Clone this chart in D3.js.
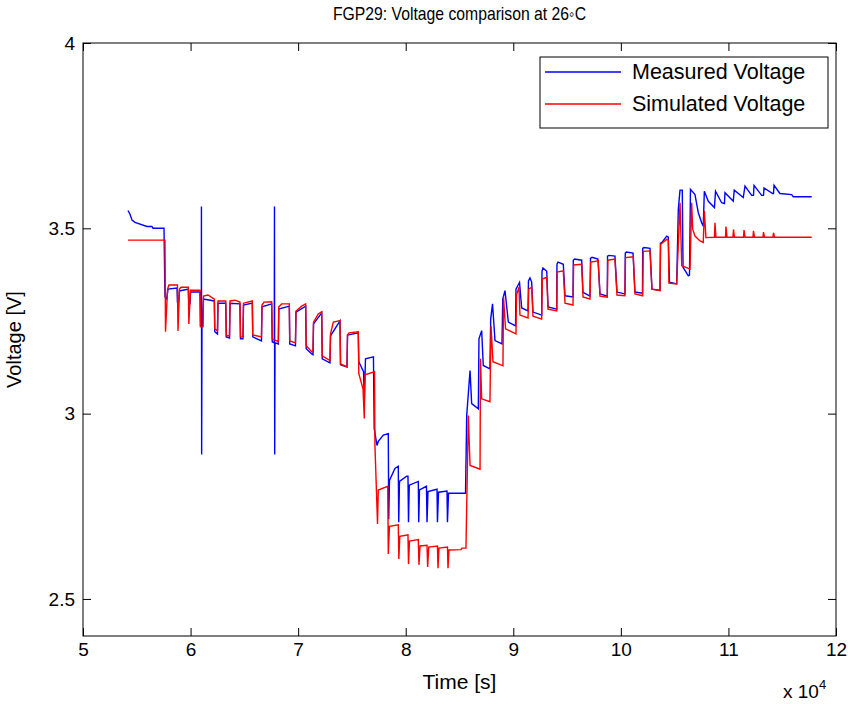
<!DOCTYPE html>
<html>
<head>
<meta charset="utf-8">
<script src="https://cdn.jsdelivr.net/npm/d3@7"></script>
<style>
  body { margin: 0; background: #fff; }
  text { font-family: "Liberation Sans", Arial, Helvetica, sans-serif; fill: #000; }
</style>
</head>
<body>
<script>
// Data: [time (s), voltage (V)]
const measured = [
  [54180,3.548],[54370,3.538],[54560,3.522],[54830,3.516],[55950,3.505],[56410,3.505],[56510,3.500],[57530,3.500],
  [57620,3.315],[57780,3.309],[57900,3.336],[58740,3.339],
  [58780,3.301],[58880,3.301],[58970,3.331],[59790,3.336],
  [59840,3.296],[59950,3.296],[59990,3.328],[60880,3.328],
  [60920,3.237],[61000,3.237],[61010,3.559],[61030,2.890],[61060,3.237],[61110,3.237],[61200,3.309],[62210,3.304],
  [62250,3.221],[62500,3.215],[62550,3.298],[63270,3.298],
  [63320,3.207],[63620,3.204],[63670,3.298],[64590,3.296],
  [64640,3.202],[64870,3.202],[64920,3.293],[65740,3.298],
  [65780,3.207],[66590,3.196],[66640,3.288],[67540,3.296],
  [67590,3.194],[67780,3.191],[67800,3.559],[67820,2.890],[67850,3.191],[68160,3.188],[68200,3.282],[69180,3.290],
  [69220,3.188],[69750,3.183],[69800,3.274],[70700,3.290],
  [70750,3.175],[71260,3.161],[71380,3.159],[71430,3.242],[72190,3.272],
  [72240,3.148],[72960,3.137],[73010,3.210],[73890,3.250],
  [73940,3.132],[74540,3.126],[74590,3.212],[75590,3.218],
  [75640,3.140],[76080,3.113],[76150,3.035],[76260,3.148],[77000,3.153],
  [77070,2.960],[77330,2.914],[77450,2.925],[77920,2.942],[78380,2.946],
  [78420,2.715],[78490,2.820],[79000,2.852],[79310,2.858],
  [79350,2.707],[79420,2.817],[80090,2.831],[80210,2.831],
  [80260,2.707],[80330,2.807],[81170,2.817],
  [81210,2.707],[81280,2.794],[81930,2.804],
  [81980,2.707],[82070,2.790],[82910,2.796],
  [82950,2.707],[83050,2.788],[83840,2.791],
  [83880,2.707],[83980,2.785],[85560,2.785],
  [85670,2.995],[85820,3.054],[85980,3.116],[86130,3.027],[86750,3.013],
  [86810,3.202],[87060,3.224],[87210,3.130],[87830,3.121],
  [87900,3.255],[88070,3.296],[88300,3.197],[88950,3.188],
  [89020,3.309],[89230,3.332],[89540,3.247],[90210,3.237],
  [90250,3.336],[90580,3.354],[90780,3.285],[91370,3.277],
  [91410,3.358],[91550,3.366],[91710,3.355],[91830,3.274],[92640,3.266],
  [92670,3.384],[92760,3.393],[93110,3.384],[93230,3.288],[94040,3.282],
  [94060,3.403],[94160,3.409],[94650,3.403],[94810,3.318],[95550,3.315],
  [95580,3.414],[95690,3.417],[96360,3.414],[96480,3.327],[97130,3.317],
  [97180,3.419],[97320,3.422],[97870,3.417],[98060,3.323],[98740,3.317],
  [98760,3.425],[98900,3.427],[99450,3.425],[99640,3.328],[100380,3.323],
  [100410,3.433],[100520,3.436],[101130,3.433],[101310,3.328],[102010,3.325],
  [102030,3.446],[102150,3.448],[102710,3.446],[102890,3.336],[103640,3.333],
  [103680,3.460],[103820,3.462],[104260,3.479],[104410,3.476],[104520,3.355],[105190,3.350],
  [105340,3.551],[105500,3.603],[105710,3.603],[105780,3.395],[106270,3.372],[106380,3.374],
  [106470,3.605],[106890,3.591],[107200,3.542],[107510,3.515],[107660,3.506],
  [107760,3.600],[108130,3.573],[108700,3.556],
  [108800,3.600],[109370,3.569],[109630,3.567],
  [109680,3.596],[110450,3.573],
  [110540,3.603],[111380,3.583],
  [111540,3.614],[112160,3.589],[112330,3.589],
  [112380,3.616],[113090,3.589],[113260,3.589],
  [113310,3.609],[114110,3.594],[114190,3.594],
  [114240,3.616],[114790,3.594],[115880,3.591],[116030,3.585],[117740,3.585]
];

const simulated = [
  [54180,3.468],[57620,3.468],[57670,3.221],[57860,3.336],[57990,3.347],[58780,3.347],
  [58830,3.223],[58970,3.336],[59110,3.341],[59790,3.341],
  [59840,3.242],[59990,3.333],[60880,3.333],
  [60920,3.234],[61160,3.234],[61200,3.317],[61620,3.320],[62210,3.309],
  [62250,3.229],[62500,3.223],[62550,3.304],[63270,3.304],
  [63320,3.210],[63620,3.210],[63670,3.304],[64130,3.306],[64590,3.301],
  [64640,3.207],[64870,3.207],[64920,3.298],[65740,3.304],
  [65780,3.212],[66590,3.207],[66640,3.293],[66830,3.301],[67540,3.302],
  [67590,3.202],[68160,3.194],[68200,3.288],[68470,3.296],[69180,3.296],
  [69220,3.196],[69750,3.191],[69800,3.277],[70330,3.290],[70700,3.296],
  [70750,3.183],[71260,3.167],[71380,3.167],[71430,3.247],[71870,3.269],[72190,3.275],
  [72240,3.156],[72960,3.143],[73010,3.215],[73270,3.247],[73890,3.251],
  [73940,3.134],[74540,3.126],[74590,3.212],[74730,3.218],[75590,3.221],
  [75640,3.108],[76030,3.067],[76150,2.987],[76210,3.105],[77100,3.113],
  [77140,2.914],[77380,2.702],[77450,2.794],[78330,2.804],
  [78380,2.621],[78490,2.696],[79310,2.700],
  [79360,2.608],[79450,2.669],[80210,2.673],
  [80260,2.594],[80350,2.656],[81170,2.660],
  [81230,2.592],[81330,2.643],[81980,2.645],
  [82040,2.586],[82140,2.640],[82950,2.643],
  [83000,2.583],[83090,2.637],[83880,2.640],
  [83930,2.583],[84020,2.632],[85140,2.633],[85230,2.637],[85600,2.637],
  [85820,2.995],[85980,2.860],[86910,2.850],
  [86950,3.148],[87060,3.040],[87830,3.032],
  [87930,3.237],[88110,3.140],[89040,3.129],
  [89090,3.315],[89280,3.229],[90250,3.215],
  [90300,3.320],[90530,3.341],[90620,3.266],[91370,3.258],
  [91440,3.336],[91710,3.341],[91830,3.263],[92640,3.255],
  [92700,3.363],[93110,3.368],[93230,3.282],[94040,3.277],
  [94080,3.382],[94650,3.385],[94810,3.298],[95550,3.293],
  [95610,3.401],[96360,3.403],[96480,3.315],[97130,3.309],
  [97200,3.409],[97900,3.412],[98060,3.317],[98740,3.314],
  [98790,3.414],[99450,3.417],[99640,3.320],[100380,3.318],
  [100430,3.421],[101160,3.423],[101310,3.323],[102030,3.318],
  [102080,3.438],[102710,3.439],[102890,3.336],[103640,3.332],
  [103700,3.457],[104260,3.470],[104410,3.468],[104470,3.352],[105190,3.350],
  [105500,3.569],[105660,3.399],[106430,3.390],
  [106580,3.569],[106680,3.497],[106890,3.479],[107360,3.466],[107660,3.462],
  [107760,3.547],[107910,3.475],[108700,3.476],
  [108750,3.515],[108840,3.476],[109730,3.476],
  [109770,3.505],[109870,3.476],[110420,3.476],
  [110470,3.497],[110560,3.476],[111400,3.476],
  [111450,3.495],[111540,3.476],[112280,3.476],
  [112330,3.493],[112420,3.476],[113210,3.476],
  [113260,3.490],[113350,3.476],[114140,3.476],
  [114190,3.488],[114280,3.476],[117740,3.476]
];

const xTicks = [50000, 60000, 70000, 80000, 90000, 100000, 110000, 120000];
const yTicks = [2.5, 3, 3.5, 4];
const seriesNames = ["Measured Voltage", "Simulated Voltage"];
const seriesColors = ["#0000ff", "#ff0000"];

const W = 848, H = 704;
const box = { left: 83, right: 836, top: 43, bottom: 636 };

const svg = d3.select("body").append("svg")
    .attr("width", W)
    .attr("height", H)
    .style("background", "#fff");

const x = d3.scaleLinear().domain([50000, 120000]).range([box.left, box.right]);
const y = d3.scaleLinear().domain([2.4, 4]).range([box.bottom, box.top]);

const line = d3.line()
    .x(d => x(d[0]))
    .y(d => y(d[1]));

// data lines
const plot = svg.append("g");
[measured, simulated].forEach((data, i) => {
    plot.append("path")
        .datum(data)
        .attr("fill", "none")
        .attr("stroke", seriesColors[i])
        .attr("stroke-width", 1.4)
        .attr("stroke-linejoin", "miter")
        .attr("d", line);
});

// axes (MATLAB style, inward ticks on all sides)
const fmtX = d => String(d / 10000);
const axB = svg.append("g").attr("transform", `translate(0,${box.bottom})`)
    .call(d3.axisBottom(x).tickValues(xTicks).tickFormat(fmtX).tickSizeInner(-8).tickSizeOuter(0).tickPadding(7));
const axT = svg.append("g").attr("transform", `translate(0,${box.top})`)
    .call(d3.axisTop(x).tickValues(xTicks).tickFormat("").tickSizeInner(-8).tickSizeOuter(0));
const axL = svg.append("g").attr("transform", `translate(${box.left},0)`)
    .call(d3.axisLeft(y).tickValues(yTicks).tickFormat(d => String(d)).tickSizeInner(-8).tickSizeOuter(0).tickPadding(8));
const axR = svg.append("g").attr("transform", `translate(${box.right},0)`)
    .call(d3.axisRight(y).tickValues(yTicks).tickFormat("").tickSizeInner(-8).tickSizeOuter(0));

[axB, axT, axL, axR].forEach(a => {
    a.select(".domain").remove();
    a.selectAll(".tick line").attr("stroke", "#000");
    a.selectAll("text")
        .attr("fill", "#000")
        .style("font-size", "19px")
        .style("font-family", '"Liberation Sans", Arial, sans-serif');
});

svg.append("rect")
    .attr("x", box.left).attr("y", box.top)
    .attr("width", box.right - box.left).attr("height", box.bottom - box.top)
    .attr("fill", "none").attr("stroke", "#000").attr("stroke-width", 1);

// titles and labels
svg.append("text")
    .attr("transform", `translate(${(box.left + box.right) / 2},20) scale(0.9,1)`)
    .attr("text-anchor", "middle")
    .style("font-size", "17.5px")
    .text("FGP29: Voltage comparison at 26\u25E6C");

svg.append("text")
    .attr("x", (box.left + box.right) / 2).attr("y", 689)
    .attr("text-anchor", "middle")
    .style("font-size", "21px")
    .text("Time [s]");

svg.append("text")
    .attr("transform", `translate(21,${(box.top + box.bottom) / 2}) rotate(-90)`)
    .attr("text-anchor", "middle")
    .style("font-size", "20px")
    .text("Voltage [V]");

const mult = svg.append("text")
    .attr("x", 783).attr("y", 698)
    .style("font-size", "19px");
mult.append("tspan").text("x 10");
mult.append("tspan").attr("dy", -9).style("font-size", "13px").text("4");

// legend
const leg = svg.append("g");
leg.append("rect")
    .attr("x", 540).attr("y", 57).attr("width", 288).attr("height", 71)
    .attr("fill", "#fff").attr("stroke", "#000").attr("stroke-width", 1);
seriesNames.forEach((name, i) => {
    const yy = 72 + i * 32;
    leg.append("line")
        .attr("x1", 545).attr("x2", 621).attr("y1", yy).attr("y2", yy)
        .attr("stroke", seriesColors[i]).attr("stroke-width", 1.4);
    leg.append("text")
        .attr("x", 632).attr("y", yy + 7)
        .style("font-size", "21.5px")
        .text(name);
});
</script>
</body>
</html>
